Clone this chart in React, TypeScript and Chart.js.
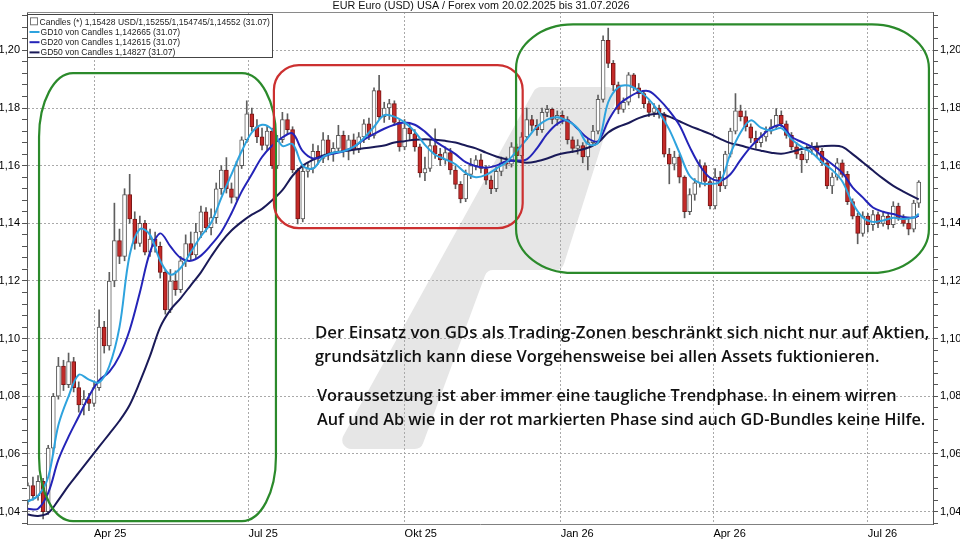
import React, { useEffect, useRef } from "react";
import { Chart, registerables } from "chart.js";

Chart.register(...registerables);

// ---------- DATA ----------
const titleText = "EUR Euro (USD) USA / Forex vom 20.02.2025 bis 31.07.2026";

// day offsets since 20.02.2025
const candleDays = [
  1, 4, 7, 10, 13, 16, 19, 22, 25, 28,
  31, 34, 37, 40, 43, 46, 49, 52, 55, 58,
  61, 64, 67, 70, 73, 76, 79, 82, 85, 88,
  91, 94, 97, 100, 103, 106, 109, 112, 115, 118,
  121, 124, 127, 130, 133, 136, 139, 142, 145, 148,
  151, 154, 157, 160, 163, 166, 169, 172, 175, 178,
  181, 184, 187, 190, 193, 196, 199, 202, 205, 208,
  211, 214, 217, 220, 223, 226, 229, 232, 235, 238,
  241, 244, 247, 250, 253, 256, 259, 262, 265, 268,
  271, 274, 277, 280, 283, 286, 289, 292, 295, 298,
  301, 304, 307, 310, 313, 316, 319, 322, 325, 328,
  331, 334, 337, 340, 343, 346, 349, 352, 355, 358,
  361, 364, 367, 370, 373, 376, 379, 382, 385, 388,
  391, 394, 397, 400, 403, 406, 409, 412, 415, 418,
  421, 424, 427, 430, 433, 436, 439, 442, 445, 448,
  451, 454, 457, 460, 463, 466, 469, 472, 475, 478,
  481, 484, 487, 490, 493, 496, 499, 502, 505, 508,
  511, 514, 517, 520, 523, 526,
];

const openPrices = [
  1.0440, 1.0490, 1.0455, 1.0505, 1.0400, 1.0620, 1.0800, 1.0905, 1.0840, 1.0920,
  1.0830, 1.0770, 1.0790, 1.0775, 1.0830, 1.1040, 1.0975, 1.1200, 1.1340, 1.1285,
  1.1500, 1.1415, 1.1330, 1.1400, 1.1300, 1.1345, 1.1320, 1.1230, 1.1100, 1.1200,
  1.1170, 1.1270, 1.1330, 1.1290, 1.1370, 1.1440, 1.1385, 1.1420, 1.1520, 1.1585,
  1.1520, 1.1490, 1.1600, 1.1690, 1.1780, 1.1735, 1.1700, 1.1670, 1.1720, 1.1600,
  1.1690, 1.1760, 1.1725, 1.1585, 1.1415, 1.1580, 1.1590, 1.1650, 1.1625, 1.1690,
  1.1640, 1.1660, 1.1705, 1.1650, 1.1690, 1.1655, 1.1700, 1.1745, 1.1705, 1.1860,
  1.1770, 1.1800, 1.1815, 1.1750, 1.1665, 1.1730, 1.1710, 1.1665, 1.1575, 1.1590,
  1.1670, 1.1640, 1.1620, 1.1645, 1.1585, 1.1535, 1.1485, 1.1570, 1.1600, 1.1620,
  1.1590, 1.1550, 1.1520, 1.1580, 1.1610, 1.1605, 1.1665, 1.1635, 1.1700, 1.1760,
  1.1740, 1.1725, 1.1785, 1.1795, 1.1760, 1.1775, 1.1760, 1.1690, 1.1660, 1.1670,
  1.1630, 1.1680, 1.1720, 1.1830, 1.2035, 1.1955, 1.1880, 1.1795, 1.1820, 1.1915,
  1.1870, 1.1850, 1.1815, 1.1785, 1.1800, 1.1780, 1.1640, 1.1605, 1.1630, 1.1560,
  1.1440, 1.1500, 1.1540, 1.1600, 1.1545, 1.1460, 1.1560, 1.1530, 1.1640, 1.1720,
  1.1790, 1.1770, 1.1735, 1.1695, 1.1680, 1.1700, 1.1720, 1.1735, 1.1775, 1.1745,
  1.1705, 1.1665, 1.1640, 1.1620, 1.1655, 1.1665, 1.1650, 1.1610, 1.1530, 1.1560,
  1.1610, 1.1570, 1.1475, 1.1425, 1.1365, 1.1425, 1.1395, 1.1430, 1.1400, 1.1425,
  1.1395, 1.1460, 1.1420, 1.1400, 1.1380, 1.1470,
];

const highPrices = [
  1.0500, 1.0520, 1.0525, 1.0515, 1.0630, 1.0810, 1.0935, 1.0925, 1.0950, 1.0935,
  1.0850, 1.0820, 1.0810, 1.0850, 1.1100, 1.1060, 1.1230, 1.1470, 1.1380, 1.1520,
  1.1570, 1.1440, 1.1425, 1.1410, 1.1380, 1.1370, 1.1335, 1.1240, 1.1240, 1.1235,
  1.1285, 1.1360, 1.1370, 1.1400, 1.1460, 1.1455, 1.1450, 1.1540, 1.1600, 1.1628,
  1.1540, 1.1615, 1.1700, 1.1825, 1.1800, 1.1760, 1.1730, 1.1740, 1.1730, 1.1705,
  1.1785, 1.1780, 1.1735, 1.1590, 1.1595, 1.1610, 1.1675, 1.1670, 1.1715, 1.1705,
  1.1680, 1.1740, 1.1720, 1.1705, 1.1710, 1.1715, 1.1760, 1.1765, 1.1870, 1.1913,
  1.1820, 1.1830, 1.1825, 1.1760, 1.1760, 1.1745, 1.1725, 1.1675, 1.1630, 1.1690,
  1.1728, 1.1660, 1.1665, 1.1660, 1.1600, 1.1545, 1.1585, 1.1625, 1.1635, 1.1640,
  1.1600, 1.1565, 1.1595, 1.1630, 1.1630, 1.1680, 1.1675, 1.1715, 1.1800, 1.1775,
  1.1760, 1.1800, 1.1809, 1.1800, 1.1790, 1.1790, 1.1770, 1.1700, 1.1690, 1.1680,
  1.1695, 1.1740, 1.1845, 1.2050, 1.2077, 1.1965, 1.1890, 1.1835, 1.1923, 1.1920,
  1.1885, 1.1860, 1.1825, 1.1815, 1.1810, 1.1785, 1.1660, 1.1650, 1.1640, 1.1565,
  1.1520, 1.1555, 1.1620, 1.1610, 1.1555, 1.1590, 1.1580, 1.1650, 1.1730, 1.1850,
  1.1810, 1.1790, 1.1745, 1.1720, 1.1715, 1.1735, 1.1760, 1.1798, 1.1790, 1.1755,
  1.1715, 1.1680, 1.1650, 1.1670, 1.1680, 1.1680, 1.1660, 1.1620, 1.1575, 1.1625,
  1.1620, 1.1580, 1.1485, 1.1435, 1.1440, 1.1435, 1.1445, 1.1440, 1.1440, 1.1435,
  1.1475, 1.1470, 1.1430, 1.1415, 1.1480, 1.1548,
];

const lowPrices = [
  1.0425, 1.0440, 1.0440, 1.0375, 1.0390, 1.0600, 1.0790, 1.0820, 1.0830, 1.0815,
  1.0745, 1.0735, 1.0750, 1.0765, 1.0820, 1.0950, 1.0960, 1.1180, 1.1260, 1.1270,
  1.1400, 1.1310, 1.1320, 1.1290, 1.1285, 1.1300, 1.1210, 1.1085, 1.1090, 1.1150,
  1.1160, 1.1250, 1.1270, 1.1280, 1.1350, 1.1370, 1.1360, 1.1400, 1.1500, 1.1505,
  1.1470, 1.1480, 1.1590, 1.1680, 1.1720, 1.1680, 1.1655, 1.1655, 1.1590, 1.1590,
  1.1680, 1.1710, 1.1575, 1.1398, 1.1405, 1.1560, 1.1575, 1.1605, 1.1610, 1.1620,
  1.1615, 1.1645, 1.1630, 1.1620, 1.1640, 1.1645, 1.1680, 1.1690, 1.1695, 1.1760,
  1.1750, 1.1760, 1.1740, 1.1650, 1.1655, 1.1690, 1.1650, 1.1560, 1.1548, 1.1580,
  1.1625, 1.1600, 1.1605, 1.1570, 1.1520, 1.1471, 1.1475, 1.1555, 1.1585, 1.1575,
  1.1535, 1.1503, 1.1510, 1.1565, 1.1590, 1.1595, 1.1620, 1.1625, 1.1690, 1.1720,
  1.1705, 1.1715, 1.1770, 1.1745, 1.1740, 1.1745, 1.1675, 1.1645, 1.1640, 1.1610,
  1.1585, 1.1670, 1.1710, 1.1820, 1.1940, 1.1860, 1.1780, 1.1785, 1.1810, 1.1860,
  1.1835, 1.1800, 1.1770, 1.1770, 1.1765, 1.1630, 1.1537, 1.1585, 1.1540, 1.1419,
  1.1430, 1.1480, 1.1525, 1.1530, 1.1450, 1.1450, 1.1510, 1.1520, 1.1630, 1.1710,
  1.1755, 1.1720, 1.1680, 1.1660, 1.1665, 1.1685, 1.1710, 1.1725, 1.1735, 1.1695,
  1.1655, 1.1625, 1.1576, 1.1610, 1.1640, 1.1630, 1.1600, 1.1520, 1.1503, 1.1550,
  1.1560, 1.1465, 1.1415, 1.1329, 1.1355, 1.1370, 1.1375, 1.1385, 1.1390, 1.1380,
  1.1385, 1.1410, 1.1390, 1.1360, 1.1370, 1.1455,
];

const closePrices = [
  1.0490, 1.0455, 1.0505, 1.0400, 1.0620, 1.0800, 1.0905, 1.0840, 1.0920, 1.0830,
  1.0770, 1.0790, 1.0775, 1.0830, 1.1040, 1.0975, 1.1200, 1.1340, 1.1285, 1.1500,
  1.1415, 1.1330, 1.1400, 1.1300, 1.1345, 1.1320, 1.1230, 1.1100, 1.1200, 1.1170,
  1.1270, 1.1330, 1.1290, 1.1370, 1.1440, 1.1385, 1.1420, 1.1520, 1.1585, 1.1520,
  1.1490, 1.1600, 1.1690, 1.1780, 1.1735, 1.1700, 1.1670, 1.1720, 1.1600, 1.1690,
  1.1760, 1.1725, 1.1585, 1.1415, 1.1580, 1.1590, 1.1650, 1.1625, 1.1690, 1.1640,
  1.1660, 1.1705, 1.1650, 1.1690, 1.1655, 1.1700, 1.1745, 1.1705, 1.1860, 1.1770,
  1.1800, 1.1815, 1.1750, 1.1665, 1.1730, 1.1710, 1.1665, 1.1575, 1.1590, 1.1670,
  1.1640, 1.1620, 1.1645, 1.1585, 1.1535, 1.1485, 1.1570, 1.1600, 1.1620, 1.1590,
  1.1550, 1.1520, 1.1580, 1.1610, 1.1605, 1.1665, 1.1635, 1.1700, 1.1760, 1.1740,
  1.1725, 1.1785, 1.1795, 1.1760, 1.1775, 1.1760, 1.1690, 1.1660, 1.1670, 1.1630,
  1.1680, 1.1720, 1.1830, 1.2035, 1.1955, 1.1880, 1.1795, 1.1820, 1.1915, 1.1870,
  1.1850, 1.1815, 1.1785, 1.1800, 1.1780, 1.1640, 1.1605, 1.1630, 1.1560, 1.1440,
  1.1500, 1.1540, 1.1600, 1.1545, 1.1460, 1.1560, 1.1530, 1.1640, 1.1720, 1.1790,
  1.1770, 1.1735, 1.1695, 1.1680, 1.1700, 1.1720, 1.1735, 1.1775, 1.1745, 1.1705,
  1.1665, 1.1640, 1.1620, 1.1655, 1.1665, 1.1650, 1.1610, 1.1530, 1.1560, 1.1610,
  1.1570, 1.1475, 1.1425, 1.1365, 1.1425, 1.1395, 1.1430, 1.1400, 1.1425, 1.1395,
  1.1460, 1.1420, 1.1400, 1.1380, 1.1470, 1.1543,
];

const maDays = [
  1, 7, 13, 19, 25, 31, 37, 43, 49, 55,
  61, 67, 73, 79, 85, 91, 97, 103, 109, 115,
  121, 127, 133, 139, 145, 151, 157, 163, 169, 175,
  181, 187, 193, 199, 205, 211, 217, 223, 229, 235,
  241, 247, 253, 259, 265, 271, 277, 283, 289, 295,
  301, 307, 313, 319, 325, 331, 337, 343, 349, 355,
  361, 367, 373, 379, 385, 391, 397, 403, 409, 415,
  421, 427, 433, 439, 445, 451, 457, 463, 469, 475,
  481, 487, 493, 499, 505, 511, 517, 523, 526,
];

const gd10 = [
  1.0435, 1.0455, 1.0520, 1.0700, 1.0800, 1.0875, 1.0858, 1.0848, 1.0905, 1.1040,
  1.1290, 1.1380, 1.1360, 1.1270, 1.1222, 1.1245, 1.1300, 1.1355, 1.1402, 1.1488,
  1.1570, 1.1650, 1.1715, 1.1742, 1.1725, 1.1668, 1.1675, 1.1600, 1.1590, 1.1630,
  1.1645, 1.1650, 1.1665, 1.1695, 1.1735, 1.1775, 1.1770, 1.1750, 1.1718, 1.1672,
  1.1638, 1.1622, 1.1605, 1.1575, 1.1560, 1.1568, 1.1590, 1.1612, 1.1650, 1.1692,
  1.1735, 1.1760, 1.1768, 1.1755, 1.1730, 1.1675, 1.1680, 1.1820, 1.1872, 1.1878,
  1.1860, 1.1830, 1.1785, 1.1725, 1.1645, 1.1565, 1.1540, 1.1537, 1.1545, 1.1641,
  1.1715, 1.1757, 1.1732, 1.1722, 1.1730, 1.1692, 1.1665, 1.1645, 1.1612, 1.1585,
  1.1545, 1.1470, 1.1420, 1.1405, 1.1410, 1.1419, 1.1415, 1.1420, 1.1433,
];

const gd20 = [
  1.0410, 1.0410, 1.0465, 1.0580, 1.0660, 1.0730, 1.0800, 1.0855, 1.0885, 1.0940,
  1.1030, 1.1160, 1.1300, 1.1365, 1.1320, 1.1280, 1.1270, 1.1288, 1.1325, 1.1370,
  1.1435, 1.1510, 1.1570, 1.1630, 1.1670, 1.1698, 1.1712, 1.1650, 1.1625, 1.1632,
  1.1642, 1.1650, 1.1665, 1.1690, 1.1710, 1.1728, 1.1742, 1.1750, 1.1742, 1.1718,
  1.1685, 1.1662, 1.1640, 1.1612, 1.1598, 1.1593, 1.1600, 1.1615, 1.1618, 1.1622,
  1.1660, 1.1710, 1.1745, 1.1757, 1.1728, 1.1695, 1.1685, 1.1755, 1.1810, 1.1837,
  1.1855, 1.1858, 1.1830, 1.1790, 1.1740, 1.1665, 1.1600, 1.1558, 1.1548, 1.1570,
  1.1620, 1.1665, 1.1700, 1.1730, 1.1740, 1.1700, 1.1682, 1.1665, 1.1632, 1.1605,
  1.1575, 1.1525, 1.1490, 1.1455, 1.1440, 1.1432, 1.1422, 1.1420, 1.1426,
];

const gd50 = [
  1.0390, 1.0385, 1.0395, 1.0440, 1.0490, 1.0535, 1.0580, 1.0625, 1.0670, 1.0715,
  1.0770, 1.0850, 1.0940, 1.1040, 1.1100, 1.1140, 1.1185, 1.1230, 1.1285, 1.1335,
  1.1375, 1.1405, 1.1430, 1.1450, 1.1480, 1.1515, 1.1565, 1.1600, 1.1620, 1.1635,
  1.1645, 1.1650, 1.1655, 1.1660, 1.1665, 1.1670, 1.1680, 1.1685, 1.1690, 1.1692,
  1.1690, 1.1686, 1.1680, 1.1670, 1.1660, 1.1645, 1.1632, 1.1622, 1.1615, 1.1610,
  1.1615, 1.1625, 1.1638, 1.1646, 1.1652, 1.1662, 1.1680, 1.1715, 1.1735, 1.1748,
  1.1765, 1.1776, 1.1780, 1.1770, 1.1754, 1.1738, 1.1724, 1.1710, 1.1693, 1.1678,
  1.1670, 1.1660, 1.1652, 1.1645, 1.1641, 1.1648, 1.1658, 1.1664, 1.1667, 1.1669,
  1.1665, 1.1640, 1.1612, 1.1583, 1.1555, 1.1530, 1.1510, 1.1492, 1.1483,
];

const xTickDays = [40, 131, 223, 315, 405, 496];
const xTickLabels = ["Apr 25", "Jul 25", "Okt 25", "Jan 26", "Apr 26", "Jul 26"];
const xMinDay = 0.5;
const xMaxDay = 534.4;
const yMinPrice = 1.0357;
const yMaxPrice = 1.2133;
const yTickStep = 0.004;
const yLabelStep = 0.02;

const legendLabels = [
  "Candles (*) 1,15428 USD/1,15255/1,154745/1,14552 (31.07)",
  "GD10 von Candles 1,142665 (31.07)",
  "GD20 von Candles 1,142615 (31.07)",
  "GD50 von Candles 1,14827 (31.07)",
];

// highlighted phases (day range, price range)
const zoneStartDays = [7.6, 146.0, 288.7];
const zoneEndDays = [147.2, 292.6, 532.0];
const zoneHighPrices = [1.1921, 1.1949, 1.2090];
const zoneLowPrices = [1.0367, 1.1383, 1.1228];

const noteLines = [
  "Der Einsatz von GDs als Trading-Zonen beschränkt sich nicht nur auf Aktien,",
  "grundsätzlich kann diese Vorgehensweise bei allen Assets fuktionieren.",
  "Voraussetzung ist aber immer eine taugliche Trendphase. In einem wirren",
  "Auf und Ab wie in der rot markierten Phase sind auch GD-Bundles keine Hilfe.",
];

// ---------- STYLE ----------
const FONT = '"Liberation Sans", Arial, sans-serif';
const NOTE_FONT = '"Open Sans", "Noto Sans", sans-serif';
const COL_GD10 = "#2ea3de";
const COL_GD20 = "#2424b8";
const COL_GD50 = "#1a1a58";
const COL_UP_FILL = "#ffffff";
const COL_UP_LINE = "#5a5a5a";
const COL_DN_FILL = "#c42a28";
const COL_DN_LINE = "#7a1616";
const COL_WICK = "#5e5e5e";
const COL_GRID = "#a9a9a9";
const zoneColors = ["#2b8a2b", "#cc3030", "#2b8a2b"];
const zoneRadii = [
  [34, 64],
  [25, 25],
  [57, 44],
];
// note layout (pixels): left x, baseline y, rendered width
const noteX = [315, 315, 317, 317];
const noteY = [338, 362, 401, 425];
const noteW = [615, 565, 580, 609];

const isMajor = (v: number) => {
  const r = v / yLabelStep;
  return Math.abs(r - Math.round(r)) < 1e-6;
};
const fmtPrice = (v: number) => v.toFixed(2).replace(".", ",");

function fitSize(ctx: CanvasRenderingContext2D, text: string, weight: string, family: string, target: number) {
  ctx.font = `${weight} 20px ${family}`;
  const w = ctx.measureText(text).width;
  return (20 * target) / w;
}

function roundedPoly(ctx: CanvasRenderingContext2D, pts: number[][], r: number) {
  const n = pts.length;
  const sx = (pts[n - 1][0] + pts[0][0]) / 2;
  const sy = (pts[n - 1][1] + pts[0][1]) / 2;
  ctx.beginPath();
  ctx.moveTo(sx, sy);
  for (let i = 0; i < n; i++) {
    const p = pts[i];
    const q = pts[(i + 1) % n];
    ctx.arcTo(p[0], p[1], q[0], q[1], r);
  }
  ctx.closePath();
}

function ellRect(ctx: CanvasRenderingContext2D, x1: number, y1: number, x2: number, y2: number, rx: number, ry: number) {
  ctx.beginPath();
  ctx.moveTo(x1 + rx, y1);
  ctx.lineTo(x2 - rx, y1);
  ctx.ellipse(x2 - rx, y1 + ry, rx, ry, 0, -Math.PI / 2, 0);
  ctx.lineTo(x2, y2 - ry);
  ctx.ellipse(x2 - rx, y2 - ry, rx, ry, 0, 0, Math.PI / 2);
  ctx.lineTo(x1 + rx, y2);
  ctx.ellipse(x1 + rx, y2 - ry, rx, ry, 0, Math.PI / 2, Math.PI);
  ctx.lineTo(x1, y1 + ry);
  ctx.ellipse(x1 + rx, y1 + ry, rx, ry, 0, Math.PI, Math.PI * 1.5);
  ctx.closePath();
}

const decorPlugin = {
  id: "decor",
  beforeDraw(chart: any) {
    const ctx: CanvasRenderingContext2D = chart.ctx;
    ctx.save();
    ctx.fillStyle = "#ffffff";
    ctx.fillRect(0, 0, chart.width, chart.height);
    // watermark logo
    roundedPoly(
      ctx,
      [
        [536, 87],
        [620, 87],
        [562, 270],
        [487, 270],
        [421, 449],
        [336, 449],
      ],
      9
    );
    ctx.fillStyle = "#e6e6e6";
    ctx.fill();
    ctx.restore();
  },
  afterDatasetsDraw(chart: any) {
    const ctx: CanvasRenderingContext2D = chart.ctx;
    const xs = chart.scales.x;
    const ys = chart.scales.y;
    ctx.save();
    ctx.lineWidth = 2.2;
    for (let i = 0; i < zoneStartDays.length; i++) {
      const x1 = xs.getPixelForValue(zoneStartDays[i]);
      const x2 = xs.getPixelForValue(zoneEndDays[i]);
      const y1 = ys.getPixelForValue(zoneHighPrices[i]);
      const y2 = ys.getPixelForValue(zoneLowPrices[i]);
      ellRect(ctx, x1, y1, x2, y2, zoneRadii[i][0], zoneRadii[i][1]);
      ctx.strokeStyle = zoneColors[i];
      ctx.stroke();
    }
    ctx.restore();
  },
  afterDraw(chart: any) {
    const ctx: CanvasRenderingContext2D = chart.ctx;
    const a = chart.chartArea;
    ctx.save();
    // top frame line
    ctx.strokeStyle = "#8a8a8a";
    ctx.lineWidth = 1;
    ctx.beginPath();
    ctx.moveTo(a.left, Math.round(a.top) + 0.5);
    ctx.lineTo(a.right, Math.round(a.top) + 0.5);
    ctx.stroke();

    // title
    const ts = fitSize(ctx, titleText, "400", FONT, 297);
    ctx.font = `400 ${ts}px ${FONT}`;
    ctx.fillStyle = "#111";
    ctx.textAlign = "center";
    ctx.textBaseline = "middle";
    ctx.fillText(titleText, 481, 6.5);

    // legend box
    const lx = Math.round(a.left) + 0.5;
    const ly = 14.5;
    ctx.fillStyle = "#ffffff";
    ctx.fillRect(lx, ly, 245, 43);
    ctx.strokeStyle = "#444";
    ctx.lineWidth = 1;
    ctx.strokeRect(lx, ly, 245, 43);
    const ls = fitSize(ctx, legendLabels[0], "400", FONT, 231);
    ctx.font = `400 ${ls}px ${FONT}`;
    ctx.textAlign = "left";
    ctx.textBaseline = "middle";
    const lineCols = [COL_GD10, COL_GD20, COL_GD50];
    for (let i = 0; i < legendLabels.length; i++) {
      const cy = ly + 7.3 + i * 10.2;
      if (i === 0) {
        ctx.fillStyle = "#fff";
        ctx.fillRect(lx + 3, cy - 4, 7, 7);
        ctx.strokeStyle = "#777";
        ctx.strokeRect(lx + 3, cy - 4, 7, 7);
      } else {
        ctx.strokeStyle = lineCols[i - 1];
        ctx.lineWidth = 2;
        ctx.beginPath();
        ctx.moveTo(lx + 2, cy);
        ctx.lineTo(lx + 12, cy);
        ctx.stroke();
        ctx.lineWidth = 1;
      }
      ctx.fillStyle = "#222";
      ctx.fillText(legendLabels[i], lx + (i === 0 ? 12 : 13), cy + 0.5);
    }

    // explanatory note
    ctx.fillStyle = "#111";
    ctx.textAlign = "left";
    ctx.textBaseline = "alphabetic";
    for (let i = 0; i < noteLines.length; i++) {
      const ns = fitSize(ctx, noteLines[i], "600", NOTE_FONT, noteW[i]);
      ctx.font = `600 ${ns}px ${NOTE_FONT}`;
      ctx.fillText(noteLines[i], noteX[i], noteY[i]);
    }
    ctx.restore();
  },
};

export default function App() {
  const ref = useRef<HTMLCanvasElement>(null);

  useEffect(() => {
    if (!ref.current) return;
    const up = (i: number) => closePrices[i] >= openPrices[i];
    const wickData = candleDays.map((d, i) => ({ x: d, y: [lowPrices[i], highPrices[i]] }));
    const bodyData = candleDays.map((d, i) => ({ x: d, y: [openPrices[i], closePrices[i]] }));
    const line = (vals: number[]) => maDays.map((d, i) => ({ x: d, y: vals[i] }));

    const tickFont = { family: FONT, size: 11 };
    const yAxisCommon = {
      type: "linear" as const,
      min: yMinPrice,
      max: yMaxPrice,
      ticks: {
        stepSize: yTickStep,
        includeBounds: false,
        autoSkip: false,
        padding: 2,
        color: "#000",
        font: tickFont,
        callback: (v: any) => (isMajor(Number(v)) ? fmtPrice(Number(v)) : ""),
      },
    };

    const chart = new Chart(ref.current, {
      type: "bar",
      data: {
        datasets: [
          {
            type: "line",
            label: "GD10",
            data: line(gd10),
            borderColor: COL_GD10,
            borderWidth: 2,
            pointRadius: 0,
            tension: 0.35,
            order: 0,
          } as any,
          {
            type: "line",
            label: "GD20",
            data: line(gd20),
            borderColor: COL_GD20,
            borderWidth: 2,
            pointRadius: 0,
            tension: 0.35,
            order: 0,
          } as any,
          {
            type: "line",
            label: "GD50",
            data: line(gd50),
            borderColor: COL_GD50,
            borderWidth: 2,
            pointRadius: 0,
            tension: 0.35,
            order: 0,
          } as any,
          {
            type: "bar",
            label: "Body",
            data: bodyData,
            backgroundColor: (c: any) => (up(c.dataIndex) ? COL_UP_FILL : COL_DN_FILL),
            borderColor: (c: any) => (up(c.dataIndex) ? COL_UP_LINE : COL_DN_LINE),
            borderWidth: 1,
            borderSkipped: false,
            barThickness: 4,
            grouped: false,
            order: 1,
          } as any,
          {
            type: "bar",
            label: "Wick",
            data: wickData,
            backgroundColor: COL_WICK,
            borderWidth: 0,
            barThickness: 1,
            grouped: false,
            order: 2,
          } as any,
        ],
      },
      options: {
        responsive: false,
        animation: false,
        devicePixelRatio: 1,
        layout: { padding: { top: 12, left: 0, right: 0, bottom: 0 } },
        plugins: {
          legend: { display: false },
          title: { display: false },
          tooltip: { enabled: false },
        },
        scales: {
          x: {
            type: "linear",
            min: xMinDay,
            max: xMaxDay,
            offset: false,
            grid: { offset: false, color: COL_GRID, drawTicks: false, lineWidth: 1 },
            border: { display: true, color: "#808080", dash: [2, 2] },
            ticks: {
              align: "start",
              autoSkip: false,
              maxRotation: 0,
              minRotation: 0,
              padding: 3,
              color: "#000",
              font: tickFont,
              callback: (_v: any, i: number) => xTickLabels[i] ?? "",
            },
            afterBuildTicks: (s: any) => {
              s.ticks = xTickDays.map((v) => ({ value: v }));
            },
            afterFit: (s: any) => {
              s.height = 16;
            },
          } as any,
          y: {
            ...yAxisCommon,
            position: "left",
            grid: {
              color: (c: any) => (c.tick && isMajor(c.tick.value) ? COL_GRID : "rgba(0,0,0,0)"),
              tickColor: "#555",
              tickLength: 5,
              drawTicks: true,
            },
            border: { display: true, color: "#555", dash: [2, 2] },
            afterFit: (s: any) => {
              s.width = 27;
            },
          } as any,
          y2: {
            ...yAxisCommon,
            position: "right",
            grid: { drawOnChartArea: false, tickColor: "#555", tickLength: 5, drawTicks: true },
            border: { display: true, color: "#555" },
            afterFit: (s: any) => {
              s.width = 27;
            },
          } as any,
        },
      },
      plugins: [decorPlugin as any],
    });
    return () => chart.destroy();
  }, []);

  return (
    <div style={{ position: "fixed", left: 0, top: 0, width: 960, height: 540, background: "#fff" }}>
      <canvas ref={ref} width={960} height={540} style={{ width: 960, height: 540, display: "block" }} />
    </div>
  );
}
